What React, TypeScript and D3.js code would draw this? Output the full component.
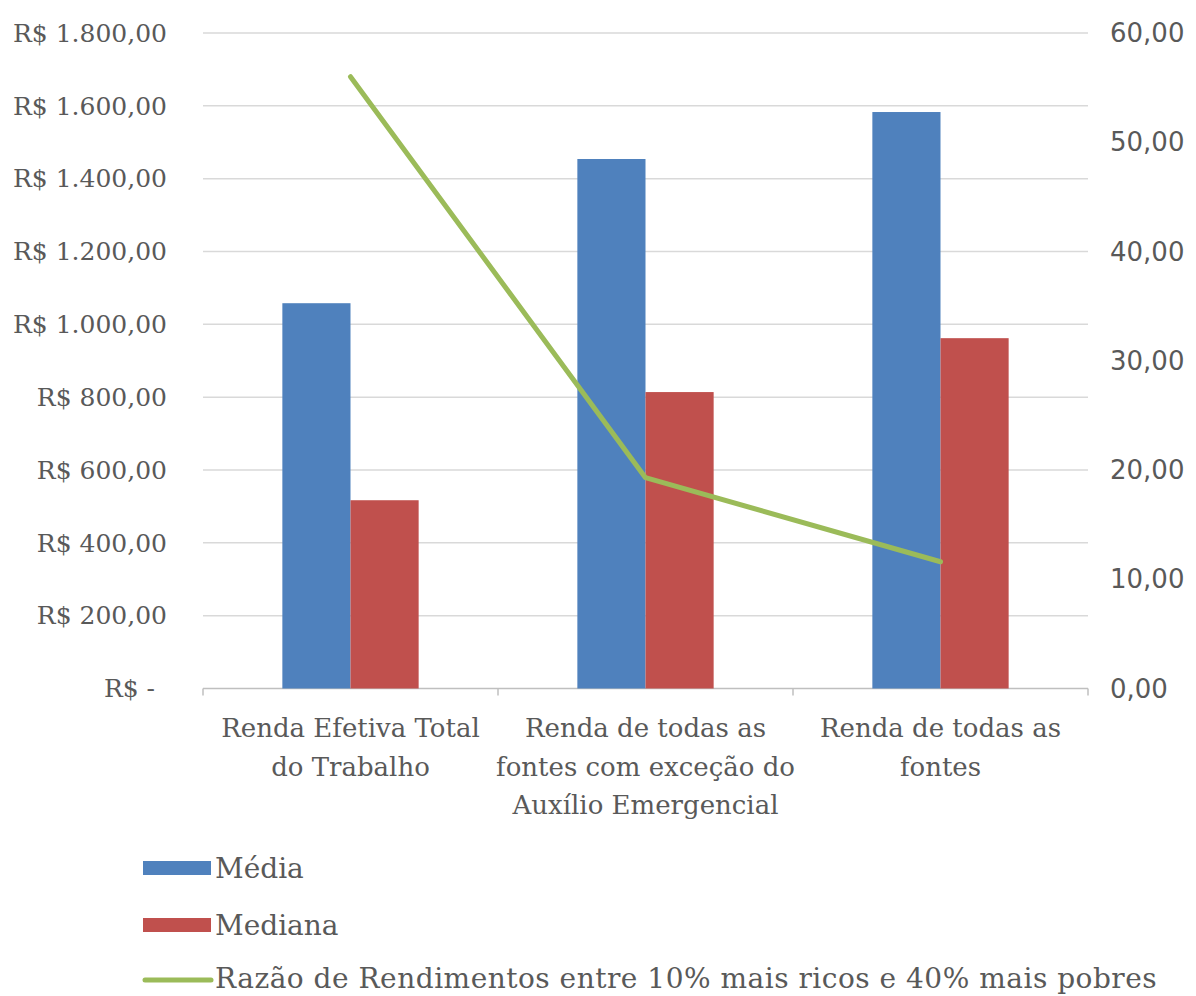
import React from "react";
import * as d3 from "d3";

const categories: string[][] = [
  ["Renda Efetiva Total", "do Trabalho"],
  ["Renda de todas as", "fontes com exceção do", "Auxílio Emergencial"],
  ["Renda de todas as", "fontes"],
];
const seriesNames = ["Média", "Mediana"];
const media = [1058, 1454, 1583];
const mediana = [517, 814, 962];
const razao = [56.0, 19.3, 11.6];
const leftTicks = [0, 200, 400, 600, 800, 1000, 1200, 1400, 1600, 1800];
const rightTicks = [0, 10, 20, 30, 40, 50, 60];
const lineName = "Razão de Rendimentos entre 10% mais ricos e 40% mais pobres";

const COLORS = { media: "#4F81BD", mediana: "#C0504D", line: "#9BBB59" };
const TEXT = "#595959";
const SERIF = "'DejaVu Serif', serif";
const SANS = "'DejaVu Sans', sans-serif";

function fmtLeft(v: number) {
  if (v === 0) return "R$ -";
  const s = d3.format(",.2f")(v);
  return "R$ " + s.replace(/,/g, "#").replace(".", ",").replace(/#/g, ".");
}
function fmtRight(v: number) {
  return d3.format(".2f")(v).replace(".", ",");
}

export default function App() {
  const W = 1196, H = 996;
  const left = 203, right = 1088, top = 33, bottom = 688.5;
  const x0 = d3.scaleBand<number>().domain([0, 1, 2]).range([left, right]).padding(0);
  const bw = x0.bandwidth();
  const gw = bw * 0.462;
  const x1 = d3.scaleBand<string>().domain(seriesNames).range([(bw - gw) / 2, (bw + gw) / 2]).padding(0);
  const yL = d3.scaleLinear().domain([0, 1800]).range([bottom, top]);
  const yR = d3.scaleLinear().domain([0, 60]).range([bottom, top]);
  const values = [media, mediana];
  const colors = [COLORS.media, COLORS.mediana];
  const lineGen = d3.line<number>()
    .x((_, i) => (x0(i) as number) + bw / 2)
    .y((d) => yR(d));

  return (
    <svg width={W} height={H} style={{ display: "block", position: "absolute", left: 0, top: 0, background: "#fff" }}>
      <rect width={W} height={H} fill="#fff" />
      {leftTicks.map((t) => (
        <line key={"g" + t} x1={left} x2={right} y1={yL(t)} y2={yL(t)} stroke={t === 0 ? "#bfbfbf" : "#d9d9d9"} strokeWidth={1.5} />
      ))}
      {[0, 1, 2, 3].map((i) => {
        const x = left + bw * i;
        return <line key={"t" + i} x1={x} x2={x} y1={bottom} y2={bottom + 7} stroke="#bfbfbf" strokeWidth={1.5} />;
      })}
      {leftTicks.map((t) => (
        <text key={"l" + t} x={t === 0 ? 155 : 167} y={yL(t)} dy="0.35em" textAnchor="end" fontFamily={SERIF} fontSize={25} fill={TEXT}>
          {fmtLeft(t)}
        </text>
      ))}
      {rightTicks.map((t) => (
        <text key={"r" + t} x={1110} y={yR(t)} dy="0.35em" textAnchor="start" fontFamily={SANS} fontSize={26} fill={TEXT}>
          {fmtRight(t)}
        </text>
      ))}
      {values.map((vals, si) =>
        vals.map((v, ci) => (
          <rect
            key={"b" + si + "-" + ci}
            x={(x0(ci) as number) + (x1(seriesNames[si]) as number)}
            y={yL(v)}
            width={x1.bandwidth()}
            height={bottom - yL(v)}
            fill={colors[si]}
          />
        ))
      )}
      <path d={lineGen(razao) || ""} fill="none" stroke={COLORS.line} strokeWidth={5} strokeLinejoin="round" strokeLinecap="round" />
      {categories.map((lines, ci) => (
        <text key={"c" + ci} x={(x0(ci) as number) + bw / 2} y={737} textAnchor="middle" fontFamily={SERIF} fontSize={26} fill={TEXT}>
          {lines.map((ln, li) => (
            <tspan key={li} x={(x0(ci) as number) + bw / 2} dy={li === 0 ? 0 : 38.5}>
              {ln}
            </tspan>
          ))}
        </text>
      ))}
      <rect x={143} y={861} width={68} height={14} fill={COLORS.media} />
      <text x={215} y={868} dy="0.35em" fontFamily={SERIF} fontSize={28} fill={TEXT}>{seriesNames[0]}</text>
      <rect x={143} y={918} width={68} height={14} fill={COLORS.mediana} />
      <text x={215} y={925} dy="0.35em" fontFamily={SERIF} fontSize={28} fill={TEXT}>{seriesNames[1]}</text>
      <line x1={145} x2={211} y1={980} y2={980} stroke={COLORS.line} strokeWidth={5} strokeLinecap="round" />
      <text x={215} y={978} dy="0.35em" fontFamily={SERIF} fontSize={28} letterSpacing={0.5} fill={TEXT}>{lineName}</text>
    </svg>
  );
}
